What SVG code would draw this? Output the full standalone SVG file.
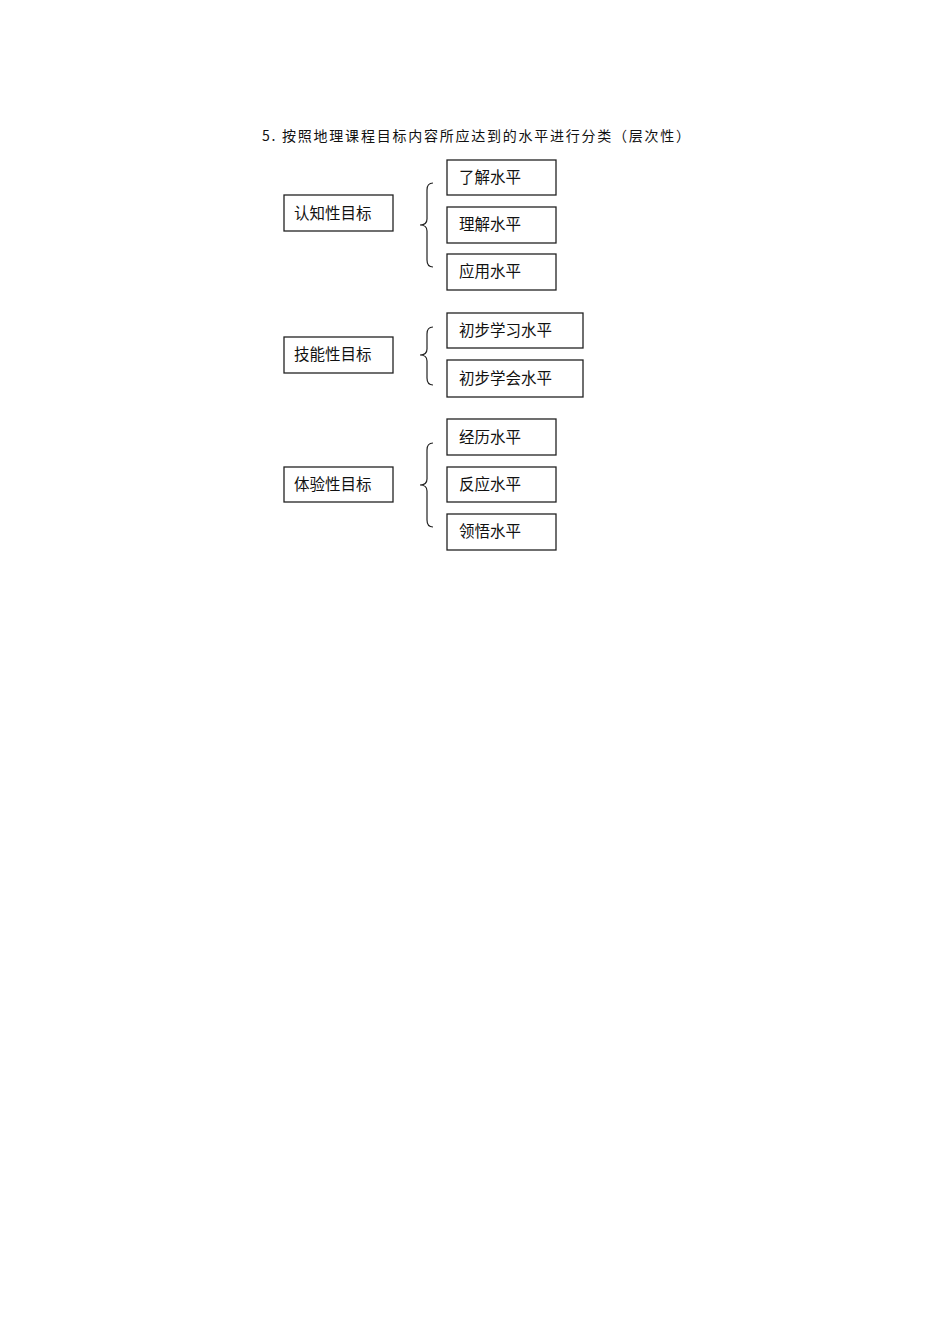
<svg xmlns="http://www.w3.org/2000/svg" width="950" height="1344" viewBox="0 0 950 1344">
<style>
.box{fill:#fff;stroke:#222;stroke-width:1.3}
.t{font-family:"Noto Sans CJK SC","Liberation Sans",sans-serif;font-size:15.5px;fill:#111}
.title{font-family:"Noto Sans CJK SC","Liberation Sans",sans-serif;font-size:14px;fill:#111}
.br{fill:none;stroke:#222;stroke-width:1.2}
</style>
<rect width="950" height="1344" fill="#fff"/>
<text class="title" x="262" y="141" textLength="428" lengthAdjust="spacing">5. 按照地理课程目标内容所应达到的水平进行分类（层次性）</text>
<g id="connectors">
<path class="br" d="M433,183 Q427,183 427,190 L427,219 Q427,225 420,225 Q427,225 427,231 L427,260 Q427,267 433,267"/>
<path class="br" d="M433,327 Q427,327 427,334 L427,349 Q427,355 420,355 Q427,355 427,361 L427,378 Q427,385 433,385"/>
<path class="br" d="M433,443 Q427,443 427,450 L427,479 Q427,485 420,485 Q427,485 427,491 L427,520 Q427,527 433,527"/>
</g>
<g id="n1"><rect class="box" x="284" y="195" width="109" height="36"/><text class="t" x="294" y="219">认知性目标</text></g>
<g id="n1a"><rect class="box" x="447" y="160" width="109" height="35"/><text class="t" x="459" y="183">了解水平</text></g>
<g id="n1b"><rect class="box" x="447" y="207" width="109" height="36"/><text class="t" x="459" y="230">理解水平</text></g>
<g id="n1c"><rect class="box" x="447" y="254" width="109" height="36"/><text class="t" x="459" y="277">应用水平</text></g>
<g id="n2"><rect class="box" x="284" y="337" width="109" height="36"/><text class="t" x="294" y="360">技能性目标</text></g>
<g id="n2a"><rect class="box" x="447" y="313" width="136" height="35"/><text class="t" x="459" y="336">初步学习水平</text></g>
<g id="n2b"><rect class="box" x="447" y="360" width="136" height="37"/><text class="t" x="459" y="384">初步学会水平</text></g>
<g id="n3"><rect class="box" x="284" y="467" width="109" height="35"/><text class="t" x="294" y="490">体验性目标</text></g>
<g id="n3a"><rect class="box" x="447" y="419" width="109" height="36"/><text class="t" x="459" y="443">经历水平</text></g>
<g id="n3b"><rect class="box" x="447" y="467" width="109" height="35"/><text class="t" x="459" y="490">反应水平</text></g>
<g id="n3c"><rect class="box" x="447" y="514" width="109" height="36"/><text class="t" x="459" y="537">领悟水平</text></g>
</svg>
